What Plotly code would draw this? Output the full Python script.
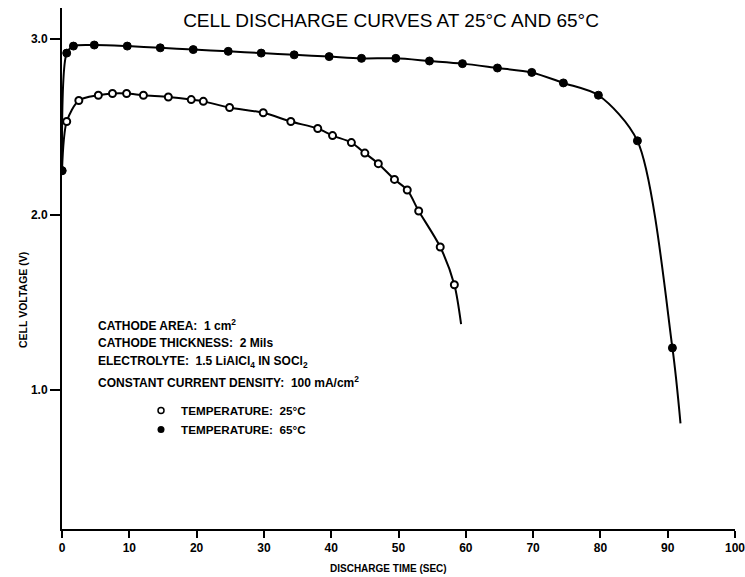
import plotly.graph_objects as go

# 25 °C (open circles)
t25 = [0, 0.7, 2.5, 5.4, 7.5, 9.6, 12.1, 15.8, 19.2, 21.0, 24.9, 29.9, 34.0, 38.0,
       40.2, 43.0, 45.0, 47.0, 49.4, 51.3, 53.0, 56.2, 58.3]
v25 = [2.25, 2.53, 2.65, 2.68, 2.69, 2.69, 2.68, 2.67, 2.655, 2.645, 2.61, 2.58, 2.53,
       2.49, 2.45, 2.41, 2.35, 2.29, 2.20, 2.14, 2.02, 1.815, 1.60]
t25_end = [59.3]
v25_end = [1.375]

# 65 °C (filled circles)
t65 = [0, 0.7, 1.7, 4.8, 9.7, 14.6, 19.5, 24.7, 29.6, 34.5, 39.7, 44.5, 49.6, 54.6,
       59.5, 64.7, 69.8, 74.5, 79.7, 85.5, 90.7]
v65 = [2.25, 2.92, 2.96, 2.966, 2.96, 2.95, 2.94, 2.93, 2.92, 2.91, 2.90, 2.89, 2.89,
       2.875, 2.86, 2.835, 2.81, 2.75, 2.68, 2.42, 1.24]
t65_end = [91.9]
v65_end = [0.81]

x_ticks = [0, 10, 20, 30, 40, 50, 60, 70, 80, 90, 100]
y_ticks = [1.0, 2.0, 3.0]
y_tick_labels = ["1.0", "2.0", "3.0"]

title = "CELL DISCHARGE CURVES AT 25°C AND 65°C"
x_title = "DISCHARGE TIME (SEC)"
y_title = "CELL VOLTAGE (V)"
notes = [
    "CATHODE AREA:  1 cm<sup>2</sup>",
    "CATHODE THICKNESS:  2 Mils",
    "ELECTROLYTE:  1.5 LiAlCl<sub>4</sub> IN SOCl<sub>2</sub>",
    "CONSTANT CURRENT DENSITY:  100 mA/cm<sup>2</sup>",
]
legend_names = ["TEMPERATURE:  25°C", "TEMPERATURE:  65°C"]

FONT = "Liberation Sans, Arial, sans-serif"

W, H = 745, 577
L, R, T, B = 62, 10, 8, 48
PW, PH = W - L - R, H - T - B


def px(fx):
    return (fx - L) / PW


def py(fy):
    return (H - B - fy) / PH


fig = go.Figure()

fig.add_trace(go.Scatter(x=t25 + t25_end, y=v25 + v25_end, mode="lines",
                         line=dict(color="black", width=2, shape="spline", smoothing=0.8),
                         showlegend=False, hoverinfo="skip"))
fig.add_trace(go.Scatter(x=t65 + t65_end, y=v65 + v65_end, mode="lines",
                         line=dict(color="black", width=2, shape="spline", smoothing=0.8),
                         showlegend=False, hoverinfo="skip"))
fig.add_trace(go.Scatter(x=t25, y=v25, mode="markers",
                         marker=dict(symbol="circle", size=7, color="white",
                                     line=dict(color="black", width=2)),
                         showlegend=False))
fig.add_trace(go.Scatter(x=t65, y=v65, mode="markers",
                         marker=dict(symbol="circle", size=8, color="black",
                                     line=dict(color="black", width=1)),
                         showlegend=False))
fig.add_trace(go.Scatter(x=[None], y=[None], mode="markers", name="<b>" + legend_names[0] + "</b>",
                         marker=dict(symbol="circle", size=6, color="white",
                                     line=dict(color="black", width=1.5))))
fig.add_trace(go.Scatter(x=[None], y=[None], mode="markers", name="<b>" + legend_names[1] + "</b>",
                         marker=dict(symbol="circle", size=7, color="black")))

note_y = [325, 343, 362, 382]
anns = []
for txt, fy in zip(notes, note_y):
    anns.append(dict(text="<b>" + txt + "</b>", xref="paper", yref="paper",
                     x=px(96), y=py(fy), xanchor="left", yanchor="middle",
                     showarrow=False, font=dict(family=FONT, size=12, color="black")))
anns.append(dict(text="<b>" + x_title + "</b>", xref="paper", yref="paper",
                 x=px(388), y=py(568), xanchor="center", yanchor="middle",
                 showarrow=False, font=dict(family=FONT, size=10, color="black")))
anns.append(dict(text="<b>" + y_title + "</b>", xref="paper", yref="paper",
                 x=px(23), y=py(300), xanchor="center", yanchor="middle", textangle=-90,
                 showarrow=False, font=dict(family=FONT, size=10.5, color="black")))

fig.update_layout(
    width=W, height=H, autosize=False,
    margin=dict(l=L, r=R, t=T, b=B, pad=0),
    paper_bgcolor="white", plot_bgcolor="white",
    font=dict(family=FONT, color="black"),
    title=dict(text=title, x=391 / W, xanchor="center", xref="container",
               y=1 - 20 / H, yanchor="middle", yref="container",
               font=dict(family=FONT, size=19, color="black")),
    annotations=anns,
    legend=dict(x=px(141), y=py(396), xanchor="left", yanchor="top",
                bgcolor="rgba(0,0,0,0)", font=dict(family=FONT, size=11.7, color="black"),
                itemwidth=30),
    showlegend=True,
)
fig.update_xaxes(range=[0, 100], tickvals=x_ticks, ticktext=[f"<b>{v}</b>" for v in x_ticks],
                 showgrid=False, zeroline=False, showline=True, linecolor="black", linewidth=2,
                 ticks="outside", ticklen=7, tickwidth=2, tickcolor="black", automargin=False,
                 ticklabeloverflow="allow",
                 tickfont=dict(family=FONT, size=12, color="black"))
fig.update_yaxes(range=[0.208, 3.177], tickvals=y_ticks,
                 ticktext=[f"<b>{t}</b>" for t in y_tick_labels],
                 showgrid=False, zeroline=False, showline=True, linecolor="black", linewidth=2,
                 ticks="outside", ticklen=10, tickwidth=2, tickcolor="black", automargin=False,
                 ticklabeloverflow="allow",
                 tickfont=dict(family=FONT, size=12, color="black"))

fig.write_html("out.html", config={"displayModeBar": False},
               post_script="document.body.style.margin='0';document.body.style.overflow='hidden';")
